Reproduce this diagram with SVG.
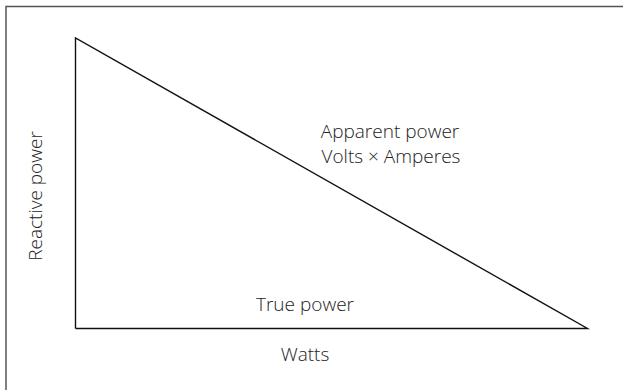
<svg xmlns="http://www.w3.org/2000/svg" width="623" height="390" viewBox="0 0 623 390">
<style>
text{font-family:"Open Sans","Noto Sans",sans-serif;font-size:19px;fill:#222;font-weight:300}
.frame{fill:none;stroke:#555;stroke-width:1.5}
.edge{fill:none;stroke:#111;stroke-width:1.4}
</style>
<rect width="623" height="390" fill="#fff"/>
<rect class="frame" x="6" y="6.5" width="630" height="400"/>
<g id="connectors">
<polyline class="edge" points="75.5,328.5 75.5,38 587.5,328.5 75.5,328.5"/>
</g>
<g id="hyp-label"><text x="390" y="138" text-anchor="middle">Apparent power</text><text x="391" y="163" text-anchor="middle">Volts × Amperes</text></g>
<g id="base-label"><text x="305" y="311" text-anchor="middle">True power</text></g>
<g id="base-unit"><text x="305" y="361" text-anchor="middle">Watts</text></g>
<g id="side-label"><text transform="translate(42,196) rotate(-90)" text-anchor="middle">Reactive power</text></g>
</svg>
